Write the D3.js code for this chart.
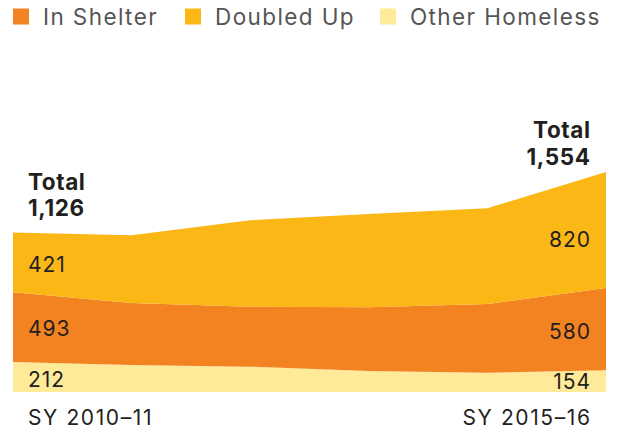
<!DOCTYPE html>
<html>
<head>
<meta charset="utf-8">
<script src="https://cdn.jsdelivr.net/npm/d3@7"></script>
<style>
  html, body { margin: 0; padding: 0; background: #fff; }
  svg { display: block; }
  text { font-family: Inter, "Noto Sans", sans-serif; }
</style>
</head>
<body>
<svg id="chart" width="622" height="431"></svg>
<script>
const years = ["SY 2010–11", "SY 2011–12", "SY 2012–13", "SY 2013–14", "SY 2014–15", "SY 2015–16"];
const otherHomeless = [212, 191, 179, 148, 136, 154];
const inShelter = [493, 438, 424, 451, 486, 580];
const doubledUp = [421, 478, 610, 659, 676, 820];
const seriesNames = ["Other Homeless", "In Shelter", "Doubled Up"];
const legendOrder = ["In Shelter", "Doubled Up", "Other Homeless"];
const colors = { "In Shelter": "#F38221", "Doubled Up": "#FBB716", "Other Homeless": "#FEEA98" };

const rows = years.map((y, i) => ({
  year: y,
  "Other Homeless": otherHomeless[i],
  "In Shelter": inShelter[i],
  "Doubled Up": doubledUp[i]
}));
const totals = rows.map(r => r["Other Homeless"] + r["In Shelter"] + r["Doubled Up"]);

const svg = d3.select("#chart");
const x = d3.scalePoint().domain(years).range([13, 606]);
const y = d3.scaleLinear().domain([0, 1554]).range([392, 172]);

const stack = d3.stack().keys(seriesNames);
const layers = stack(rows);
const area = d3.area()
  .x(d => x(d.data.year))
  .y0(d => y(d[0]))
  .y1(d => y(d[1]));

svg.append("g").selectAll("path").data(layers).join("path")
  .attr("d", area)
  .attr("fill", d => colors[d.key]);

// legend
const legendX = [13, 185, 380];
const lg = svg.append("g");
legendOrder.forEach((name, i) => {
  lg.append("rect").attr("x", legendX[i]).attr("y", 8.5).attr("width", 16).attr("height", 16)
    .attr("fill", colors[name]);
  lg.append("text").attr("x", legendX[i] + 30).attr("y", 25)
    .attr("font-size", 22.5).attr("fill", "#555").attr("letter-spacing", 1.4)
    .text(name);
});

const dark = "#231F20";
const lab = svg.append("g").attr("fill", dark);
const first = 0, last = years.length - 1;
const x0 = x(years[first]) + 15, x1 = x(years[last]) - 16;

// totals
const tf = 22.5, tls = 0.6;
lab.append("text").attr("x", x0).attr("y", 190).attr("font-size", tf).attr("letter-spacing", tls).attr("font-weight", 700).text("Total");
lab.append("text").attr("x", x0).attr("y", 216).attr("font-size", tf).attr("letter-spacing", tls).attr("font-weight", 700).text(d3.format(",")(totals[first]));
lab.append("text").attr("x", x1 + tls).attr("y", 138).attr("text-anchor", "end").attr("font-size", tf).attr("letter-spacing", tls).attr("font-weight", 700).text("Total");
lab.append("text").attr("x", x1 + tls).attr("y", 165).attr("text-anchor", "end").attr("font-size", tf).attr("letter-spacing", tls).attr("font-weight", 700).text(d3.format(",")(totals[last]));

// series values at ends
const valueRows = [
  [doubledUp, 272, 247],
  [inShelter, 336, 339],
  [otherHomeless, 387, 389]
];
valueRows.forEach(([arr, yl, yr]) => {
  lab.append("text").attr("x", x0).attr("y", yl).attr("font-size", 21).attr("letter-spacing", 1).text(arr[first]);
  lab.append("text").attr("x", x1 + 1).attr("y", yr).attr("text-anchor", "end").attr("font-size", 21).attr("letter-spacing", 1).text(arr[last]);
});

// x labels
lab.append("text").attr("x", x0).attr("y", 425).attr("font-size", 21).attr("letter-spacing", 1.6).text(years[first]);
lab.append("text").attr("x", x1 + 1.6).attr("y", 425).attr("text-anchor", "end").attr("font-size", 21).attr("letter-spacing", 1.6).text(years[last]);
</script>
</body>
</html>
